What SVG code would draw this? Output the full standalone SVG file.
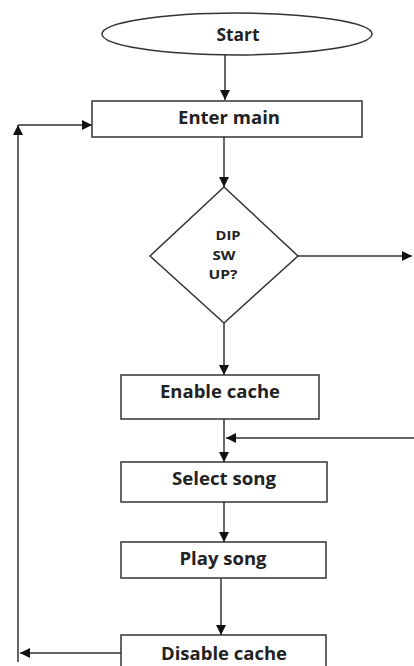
<svg xmlns="http://www.w3.org/2000/svg" width="414" height="666" viewBox="0 0 414 666">
<style>
.box{fill:#fff;stroke:#333;stroke-width:1.5}
.lbl{font-family:"Open Sans","DejaVu Sans",sans-serif;font-weight:bold;font-size:17px;fill:#222;text-anchor:middle}
.sm{font-size:12px}
.ln{fill:none;stroke:#333;stroke-width:1.5}
</style>
<defs>
<marker id="ah" viewBox="0 0 10 10" refX="10" refY="5" markerWidth="10" markerHeight="10" markerUnits="userSpaceOnUse" orient="auto">
<path d="M0,0 L10,5 L0,10 Z" fill="#111"/>
</marker>
</defs>
<rect width="414" height="666" fill="#fff"/>
<g id="connectors">
<line class="ln" x1="225" y1="55" x2="225" y2="100" marker-end="url(#ah)"/>
<line class="ln" x1="224" y1="137" x2="224" y2="187" marker-end="url(#ah)"/>
<line class="ln" x1="298" y1="256" x2="412" y2="256" marker-end="url(#ah)"/>
<line class="ln" x1="224" y1="323" x2="224" y2="375" marker-end="url(#ah)"/>
<line class="ln" x1="224" y1="419" x2="224" y2="462" marker-end="url(#ah)"/>
<line class="ln" x1="414" y1="438" x2="226" y2="438" marker-end="url(#ah)"/>
<line class="ln" x1="224" y1="502" x2="224" y2="542" marker-end="url(#ah)"/>
<line class="ln" x1="221" y1="578" x2="221" y2="635" marker-end="url(#ah)"/>
<line class="ln" x1="121" y1="653" x2="20" y2="653" marker-end="url(#ah)"/>
<line class="ln" x1="18" y1="662" x2="18" y2="125" marker-end="url(#ah)"/>
<line class="ln" x1="18" y1="125" x2="92" y2="125" marker-end="url(#ah)"/>
</g>
<g id="start">
<ellipse class="box" cx="237" cy="34" rx="135" ry="21"/>
<text class="lbl" x="238" y="41" textLength="43" lengthAdjust="spacingAndGlyphs">Start</text>
</g>
<g id="enter-main">
<rect class="box" x="92" y="101" width="270" height="36"/>
<text class="lbl" x="229" y="124" textLength="102" lengthAdjust="spacingAndGlyphs">Enter main</text>
</g>
<g id="dip-sw">
<polygon class="box" points="224,187 298,256 224,323 150,256"/>
<text class="lbl sm" x="228" y="240" textLength="25" lengthAdjust="spacingAndGlyphs">DIP</text>
<text class="lbl sm" x="224" y="260" textLength="23" lengthAdjust="spacingAndGlyphs">SW</text>
<text class="lbl sm" x="223" y="279" textLength="29" lengthAdjust="spacingAndGlyphs">UP?</text>
</g>
<g id="enable-cache">
<rect class="box" x="121" y="375" width="198" height="44"/>
<text class="lbl" x="220" y="398" textLength="120" lengthAdjust="spacingAndGlyphs">Enable cache</text>
</g>
<g id="select-song">
<rect class="box" x="121" y="462" width="206" height="40"/>
<text class="lbl" x="224" y="485" textLength="104" lengthAdjust="spacingAndGlyphs">Select song</text>
</g>
<g id="play-song">
<rect class="box" x="121" y="542" width="205" height="36"/>
<text class="lbl" x="223" y="565" textLength="87" lengthAdjust="spacingAndGlyphs">Play song</text>
</g>
<g id="disable-cache">
<rect class="box" x="121" y="635" width="205" height="40"/>
<text class="lbl" x="224" y="660" textLength="126" lengthAdjust="spacingAndGlyphs">Disable cache</text>
</g>
</svg>
